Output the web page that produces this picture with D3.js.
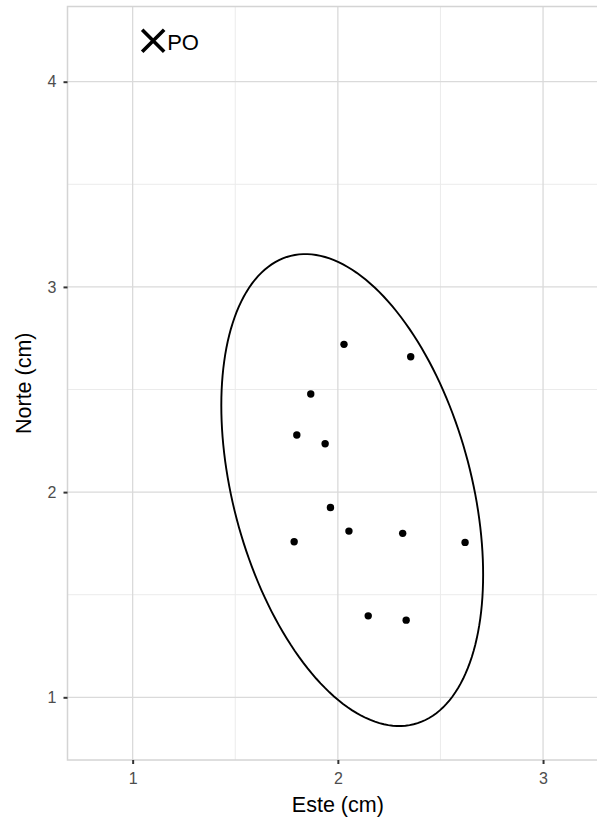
<!DOCTYPE html>
<html>
<head>
<meta charset="utf-8">
<script src="https://cdn.jsdelivr.net/npm/d3@7"></script>
<style>
  body { margin: 0; background: #fff; }
  svg { display: block; font-family: "Liberation Sans", Arial, sans-serif; }
  .tick text { font-size: 16px; fill: #4d4d4d; }
</style>
</head>
<body>
<svg width="597" height="822"></svg>
<script>
// Pontos de impacto (cm)
var este  = [2.03, 2.355, 1.868, 1.80, 1.938, 1.964, 2.054, 1.787, 2.316, 2.62, 2.148, 2.333];
var norte = [2.72, 2.66, 2.478, 2.278, 2.236, 1.925, 1.81, 1.758, 1.799, 1.755, 1.397, 1.376];

// Ponto de origem
var poEste = 1.1, poNorte = 4.2, poRotulo = "PO";

// Elipse: centro e matriz de forma
var elipseCentro = [2.07, 2.01];
var elipseForma = [[0.407, -0.263], [-0.263, 1.3225]];

// Marcas dos eixos
var ticksX = [1, 2, 3], ticksY = [1, 2, 3, 4];
var minorX = [1.5, 2.5], minorY = [1.5, 2.5, 3.5];
var tituloX = "Este (cm)", tituloY = "Norte (cm)";

var svg = d3.select("svg");
var esq = 67.5, topo = 6.5, larg = 530.5, alt = 753.5, escala = 205.2;

var x = d3.scaleLinear().domain([0.6825, 0.6825 + larg/escala]).range([esq, esq + larg]);
var y = d3.scaleLinear().domain([0.6945, 0.6945 + alt/escala]).range([topo + alt, topo]);

var painel = svg.append("g");

// grade secundária
painel.selectAll("line.mx").data(minorX).enter().append("line")
  .attr("x1", function(d){return x(d);}).attr("x2", function(d){return x(d);})
  .attr("y1", topo).attr("y2", topo + alt)
  .attr("stroke", "#ebebeb").attr("stroke-width", 1);
painel.selectAll("line.my").data(minorY).enter().append("line")
  .attr("y1", function(d){return y(d);}).attr("y2", function(d){return y(d);})
  .attr("x1", esq).attr("x2", esq + larg)
  .attr("stroke", "#ebebeb").attr("stroke-width", 1);

// grade principal
painel.selectAll("line.gx").data(ticksX).enter().append("line")
  .attr("x1", function(d){return x(d);}).attr("x2", function(d){return x(d);})
  .attr("y1", topo).attr("y2", topo + alt)
  .attr("stroke", "#dadada").attr("stroke-width", 1.3);
painel.selectAll("line.gy").data(ticksY).enter().append("line")
  .attr("y1", function(d){return y(d);}).attr("y2", function(d){return y(d);})
  .attr("x1", esq).attr("x2", esq + larg)
  .attr("stroke", "#dadada").attr("stroke-width", 1.3);

// borda do painel
painel.append("rect")
  .attr("x", esq).attr("y", topo).attr("width", larg).attr("height", alt)
  .attr("fill", "none").attr("stroke", "#d4d4d4").attr("stroke-width", 1.5);

// elipse (Cholesky da matriz de forma)
var l11 = Math.sqrt(elipseForma[0][0]),
    l21 = elipseForma[1][0]/l11,
    l22 = Math.sqrt(elipseForma[1][1] - l21*l21);
var angulos = d3.range(0, 361, 2);
var linha = d3.line()
  .x(function(t){return x(elipseCentro[0] + l11*Math.cos(t*Math.PI/180));})
  .y(function(t){var a = t*Math.PI/180; return y(elipseCentro[1] + l21*Math.cos(a) + l22*Math.sin(a));});
painel.append("path")
  .attr("d", linha(angulos))
  .attr("fill", "none").attr("stroke", "#000").attr("stroke-width", 1.9);

// pontos
painel.selectAll("circle").data(este).enter().append("circle")
  .attr("cx", function(d){return x(d);})
  .attr("cy", function(d, i){return y(norte[i]);})
  .attr("r", 3.7).attr("fill", "#000");

// marcador PO
var px = x(poEste), py = y(poNorte), h = 11;
painel.append("path")
  .attr("d", "M" + (px-h) + "," + (py-h) + "L" + (px+h) + "," + (py+h) +
             "M" + (px-h) + "," + (py+h) + "L" + (px+h) + "," + (py-h))
  .attr("stroke", "#000").attr("stroke-width", 3.6).attr("fill", "none");
painel.append("text")
  .attr("x", px + 14).attr("y", py + 9)
  .style("font-size", "22px").attr("fill", "#000")
  .text(poRotulo);

// eixos
var eixoX = svg.append("g").attr("transform", "translate(0," + (topo + alt) + ")")
  .call(d3.axisBottom(x).tickValues(ticksX).tickFormat(d3.format("d")).tickSize(4).tickPadding(9));
var eixoY = svg.append("g").attr("transform", "translate(" + esq + ",0)")
  .call(d3.axisLeft(y).tickValues(ticksY).tickFormat(d3.format("d")).tickSize(4).tickPadding(7));
[eixoX, eixoY].forEach(function(e){
  e.attr("font-size", null).attr("font-family", null);
  e.select(".domain").remove();
  e.selectAll(".tick line").attr("stroke", "#333").attr("stroke-width", 2);
});

// títulos
svg.append("text")
  .attr("x", x(2)).attr("y", 812)
  .attr("text-anchor", "middle").style("font-size", "21.5px").attr("fill", "#000")
  .text(tituloX);
svg.append("text")
  .attr("transform", "translate(31," + (topo + alt/2) + ") rotate(-90)")
  .attr("text-anchor", "middle").style("font-size", "21.5px").attr("fill", "#000")
  .text(tituloY);
</script>
</body>
</html>
